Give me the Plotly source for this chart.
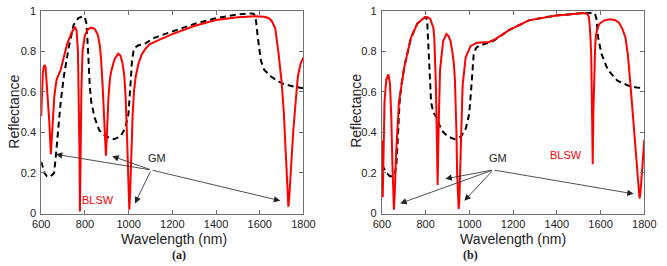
import plotly.graph_objects as go

# ---------------- data ----------------
# panel (a)
a_red_x = [600, 603, 607, 611, 615, 620, 630, 637, 644, 651, 660, 670, 689, 718, 740, 755, 762, 768, 772, 775, 777,
           780, 784, 789, 800, 815, 829, 845, 859, 868, 874, 881, 887, 892, 896, 901, 908, 915, 922, 935, 952, 962, 972,
           980, 986, 992, 997, 1000, 1003, 1007, 1012, 1018, 1025, 1033, 1045, 1060, 1075, 1095, 1150, 1200, 1300,
           1400, 1500, 1580, 1620, 1640, 1655, 1671, 1686, 1700, 1710, 1718, 1724, 1728, 1731, 1735, 1741, 1753, 1765,
           1775, 1787, 1800]
a_red_y = [0.48, 0.60, 0.69, 0.72, 0.733, 0.72, 0.585, 0.45, 0.293, 0.42, 0.58, 0.66, 0.709, 0.835, 0.895, 0.921,
           0.90, 0.80, 0.60, 0.30, 0.01, 0.30, 0.62, 0.80, 0.88, 0.91, 0.917, 0.91, 0.882, 0.83, 0.76, 0.63, 0.49, 0.36,
           0.285, 0.40, 0.58, 0.67, 0.71, 0.76, 0.788, 0.78, 0.741, 0.68, 0.58, 0.40, 0.16, 0.05, 0.019, 0.10, 0.30,
           0.48, 0.61, 0.68, 0.74, 0.785, 0.81, 0.835, 0.862, 0.885, 0.925, 0.955, 0.968, 0.973, 0.971, 0.965, 0.95,
           0.914, 0.79, 0.65, 0.50, 0.34, 0.19, 0.08, 0.034, 0.08, 0.20, 0.40, 0.56, 0.68, 0.74, 0.77]

a_blk_x = [600, 608, 615, 625, 637, 650, 659, 667, 677, 689, 704, 726, 748, 770, 792, 800, 807, 811, 815, 822, 829,
           844, 866, 896, 933, 962, 984, 999, 1005, 1010, 1015, 1022, 1030, 1045, 1075, 1117, 1200, 1300, 1400, 1500,
           1560, 1572, 1578, 1583, 1590, 1605, 1620, 1649, 1680, 1708, 1740, 1767, 1800]
a_blk_y = [0.255, 0.225, 0.20, 0.185, 0.18, 0.19, 0.20, 0.285, 0.40, 0.55, 0.68, 0.82, 0.93, 0.964, 0.973, 0.965,
           0.937, 0.87, 0.788, 0.63, 0.55, 0.474, 0.41, 0.38, 0.367, 0.38, 0.42, 0.49, 0.57, 0.66, 0.75, 0.80, 0.82,
           0.83, 0.838, 0.867, 0.898, 0.935, 0.964, 0.982, 0.987, 0.986, 0.975, 0.95, 0.88, 0.756, 0.71, 0.678, 0.655,
           0.64, 0.63, 0.623, 0.618]

# panel (b)
b_red_x = [600, 602, 604, 607, 612, 620, 630, 637, 643, 648, 652, 655, 659, 665, 678, 703, 733, 762, 796, 810, 821,
           831, 836, 840, 843, 847, 851, 855, 859, 862, 866, 880, 895, 905, 914, 922, 929, 934, 937, 941, 944, 948,
           951, 954, 958, 963, 969, 983, 1006, 1035, 1065, 1090, 1117, 1183, 1272, 1390, 1522, 1540, 1546, 1549, 1553,
           1557, 1561, 1564, 1567, 1571, 1575, 1579, 1587, 1596, 1615, 1640, 1665, 1684, 1700, 1714, 1725, 1737, 1748,
           1759, 1768, 1774, 1778, 1782, 1786, 1791, 1800]
b_red_y = [0.36, 0.20, 0.08, 0.25, 0.55, 0.66, 0.686, 0.64, 0.48, 0.25, 0.08, 0.019, 0.10, 0.30, 0.55, 0.725, 0.867,
           0.937, 0.968, 0.968, 0.96, 0.93, 0.914, 0.86, 0.788, 0.63, 0.40, 0.141, 0.40, 0.60, 0.709, 0.85, 0.886,
           0.875, 0.85, 0.80, 0.74, 0.66, 0.584, 0.40, 0.20, 0.06, 0.022, 0.06, 0.25, 0.45, 0.63, 0.77, 0.827, 0.843,
           0.843, 0.846, 0.859, 0.906, 0.953, 0.976, 0.989, 0.984, 0.97, 0.945, 0.88, 0.788, 0.50, 0.243, 0.50,
           0.709, 0.82, 0.882, 0.92, 0.937, 0.952, 0.958, 0.955, 0.942, 0.91, 0.867, 0.78, 0.63, 0.48, 0.317, 0.18,
           0.10, 0.074, 0.10, 0.16, 0.238, 0.364]

b_blk_x = [600, 608, 622, 637, 652, 660, 666, 670, 674, 681, 690, 703, 733, 762, 796, 802, 807, 811, 817, 825, 835,
           850, 873, 902, 932, 962, 984, 999, 1006, 1013, 1020, 1030, 1043, 1065, 1094, 1117, 1183, 1272, 1390, 1522,
           1549, 1570, 1576, 1581, 1589, 1604, 1633, 1677, 1729, 1765, 1800]
b_blk_y = [0.24, 0.223, 0.20, 0.184, 0.184, 0.20, 0.238, 0.31, 0.396, 0.55, 0.64, 0.725, 0.867, 0.937, 0.968, 0.965,
           0.953, 0.867, 0.709, 0.55, 0.50, 0.474, 0.41, 0.38, 0.367, 0.38, 0.42, 0.49, 0.58, 0.70, 0.788, 0.815,
           0.827, 0.835, 0.843, 0.857, 0.906, 0.953, 0.976, 0.989, 0.99, 0.989, 0.98, 0.96, 0.867, 0.788, 0.709,
           0.655, 0.63, 0.622, 0.618]

x_ticks = [600, 800, 1000, 1200, 1400, 1600, 1800]
y_ticks = [0, 0.2, 0.4, 0.6, 0.8, 1]
y_tick_text = ["0", "0.2", "0.4", "0.6", "0.8", "1"]

# arrows: hub (tail) and heads
a_gm_hub = (1103, 0.215)
a_gm_heads = [(667, 0.292), (925, 0.283), (1029, 0.05), (1694, 0.063)]
b_gm_hub = (1109, 0.215)
b_gm_heads = [(890, 0.171), (684, 0.05), (977, 0.063), (1751, 0.097)]

# ---------------- figure ----------------
FONT = "Liberation Sans, Arial, sans-serif"
fig = go.Figure()

red = dict(color="#ff0000", width=2)
blk = dict(color="#000000", width=2, dash="6px,4px")

fig.add_trace(go.Scatter(x=a_blk_x, y=a_blk_y, mode="lines", line=blk, xaxis="x", yaxis="y", showlegend=False))
fig.add_trace(go.Scatter(x=a_red_x, y=a_red_y, mode="lines", line=red, xaxis="x", yaxis="y", showlegend=False))
fig.add_trace(go.Scatter(x=b_blk_x, y=b_blk_y, mode="lines", line=blk, xaxis="x2", yaxis="y2", showlegend=False))
fig.add_trace(go.Scatter(x=b_red_x, y=b_red_y, mode="lines", line=red, xaxis="x2", yaxis="y2", showlegend=False))

ax_common = dict(showline=True, linecolor="#707070", linewidth=1, mirror="ticks", ticks="inside",
                 ticklen=4, tickcolor="#707070", showgrid=False, zeroline=False,
                 ticklabeloverflow="allow",
                 tickfont=dict(family=FONT, size=11, color="#222222"))

ydom = [0.183, 0.981]
fig.update_layout(
    width=667, height=266, margin=dict(l=0, r=0, t=0, b=0),
    paper_bgcolor="white", plot_bgcolor="white",
    xaxis=dict(domain=[0.0499, 0.4558], range=[600, 1800], tickvals=x_ticks, anchor="y",
               ticklabelstandoff=0, **ax_common),
    yaxis=dict(domain=ydom, range=[0, 1], tickvals=y_ticks, ticktext=y_tick_text, anchor="x",
               ticklabelstandoff=2, **ax_common),
    xaxis2=dict(domain=[0.5772, 0.9835], range=[600, 1800], tickvals=x_ticks, anchor="y2",
                ticklabelstandoff=0, **ax_common),
    yaxis2=dict(domain=ydom, range=[0, 1], tickvals=y_ticks, ticktext=y_tick_text, anchor="x2",
                ticklabelstandoff=2, **ax_common),
)

ann = []
def arrows(hub, heads, xr, yr):
    for hx, hy in heads:
        ann.append(dict(x=hx, y=hy, ax=hub[0], ay=hub[1], xref=xr, yref=yr, axref=xr, ayref=yr,
                        showarrow=True, arrowhead=2, arrowsize=1.6, arrowwidth=0.8, arrowcolor="#222222",
                        text=""))

arrows(a_gm_hub, a_gm_heads, "x", "y")
arrows(b_gm_hub, b_gm_heads, "x2", "y2")

ann += [
    dict(x=1131, y=0.272, xref="x", yref="y", text="GM", showarrow=False,
         font=dict(family=FONT, size=11, color="#222222")),
    dict(x=859, y=0.069, xref="x", yref="y", text="BLSW", showarrow=False,
         font=dict(family=FONT, size=11, color="#ff0000")),
    dict(x=1131, y=0.274, xref="x2", yref="y2", text="GM", showarrow=False,
         font=dict(family=FONT, size=11, color="#222222")),
    dict(x=1441, y=0.289, xref="x2", yref="y2", text="BLSW", showarrow=False,
         font=dict(family=FONT, size=11, color="#ff0000")),
    dict(x=0.2549, y=0.084, xref="paper", yref="paper", text="Wavelength (nm)", showarrow=False,
         font=dict(family=FONT, size=14, color="#222222"), xanchor="center", yanchor="middle", borderpad=0),
    dict(x=0.7796, y=0.084, xref="paper", yref="paper", text="Wavelength (nm)", showarrow=False,
         font=dict(family=FONT, size=14, color="#222222"), xanchor="center", yanchor="middle", borderpad=0),
    dict(x=0.0085, y=0.586, xref="paper", yref="paper", text="Reflectance", showarrow=False, textangle=-90,
         font=dict(family=FONT, size=14, color="#222222"), xanchor="center", yanchor="middle"),
    dict(x=0.5367, y=0.586, xref="paper", yref="paper", text="Reflectance", showarrow=False, textangle=-90,
         font=dict(family=FONT, size=14, color="#222222"), xanchor="center", yanchor="middle"),
    dict(x=0.2624, y=0.020, xref="paper", yref="paper", text="<b>(a)</b>", showarrow=False,
         font=dict(family="Liberation Serif, Times New Roman, serif", size=12, color="#222222"),
         xanchor="center", yanchor="middle"),
    dict(x=0.7147, y=0.020, xref="paper", yref="paper", text="<b>(b)</b>", showarrow=False,
         font=dict(family="Liberation Serif, Times New Roman, serif", size=12, color="#222222"),
         xanchor="center", yanchor="middle"),
]
fig.update_layout(annotations=ann)

fig.write_html("out.html")
